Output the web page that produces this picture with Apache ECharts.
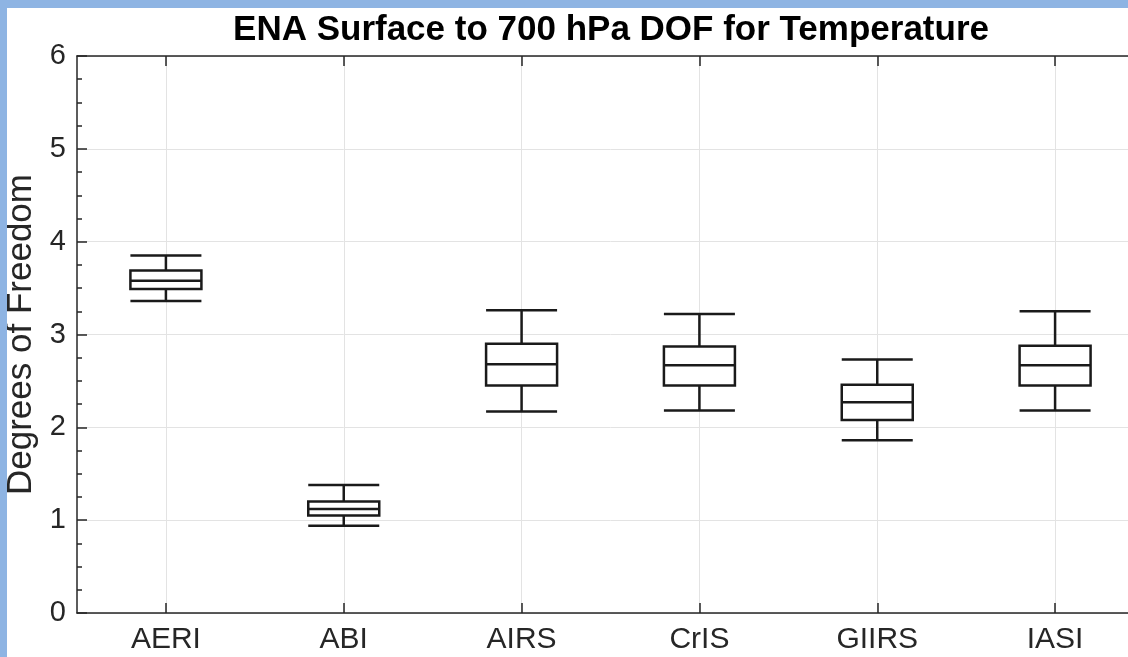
<!DOCTYPE html>
<html>
<head>
<meta charset="utf-8">
<script src="https://cdn.jsdelivr.net/npm/echarts@6/dist/echarts.min.js"></script>
<style>
  html, body { margin: 0; padding: 0; width: 1128px; height: 657px; overflow: hidden; background: #8eb4e3; }
  #chart { position: absolute; left: 7px; top: 8px; width: 1208px; height: 649px; background: #ffffff; }
</style>
</head>
<body>
<div id="chart"></div>
<script>
// instruments on the x axis
const instruments = ["AERI", "ABI", "AIRS", "CrIS", "GIIRS", "IASI"];
// box stats: lower whisker, Q1, median, Q3, upper whisker
const lowerWhisker = [3.36, 0.94, 2.17, 2.18, 1.86, 2.18];
const q1 = [3.49, 1.05, 2.45, 2.45, 2.08, 2.45];
const median = [3.58, 1.12, 2.68, 2.67, 2.27, 2.67];
const q3 = [3.69, 1.20, 2.90, 2.87, 2.46, 2.88];
const upperWhisker = [3.85, 1.38, 3.26, 3.22, 2.73, 3.25];
const yTicks = [0, 1, 2, 3, 4, 5, 6];

const boxData = instruments.map((_, i) => [lowerWhisker[i], q1[i], median[i], q3[i], upperWhisker[i]]);

const axisColor = "#262626";
const gridColor = "#e3e3e3";
const font = "'Liberation Sans', Arial, Helvetica, sans-serif";

const myChart = echarts.init(document.getElementById("chart"));
const option = {
  animation: false,
  title: {
    text: "ENA Surface to 700 hPa DOF for Temperature",
    left: "center",
    top: 0,
    textStyle: { fontFamily: font, fontSize: 35, fontWeight: "bold", color: "#000000" }
  },
  grid: { left: 70, top: 48, width: 1067, height: 557, outerBoundsMode: "none", containLabel: false },
  xAxis: [
    {
      type: "category",
      data: instruments,
      position: "bottom",
      axisLine: { lineStyle: { color: axisColor, width: 1.5 } },
      axisTick: { show: true, inside: true, length: 10, alignWithLabel: true, lineStyle: { color: axisColor, width: 1.5 } },
      axisLabel: { fontFamily: font, fontSize: 30, color: axisColor, margin: 12 },
      splitLine: { show: true, alignWithLabel: true, lineStyle: { color: gridColor, width: 1 } }
    },
    {
      type: "category",
      data: instruments,
      position: "top",
      axisLine: { lineStyle: { color: axisColor, width: 1.5 } },
      axisTick: { show: true, inside: true, length: 10, alignWithLabel: true, lineStyle: { color: axisColor, width: 1.5 } },
      axisLabel: { show: false },
      splitLine: { show: false }
    }
  ],
  yAxis: {
    type: "value",
    min: 0,
    max: 6,
    interval: 1,
    name: "Degrees of Freedom",
    nameLocation: "middle",
    nameRotate: 90,
    nameGap: 38,
    nameTextStyle: { fontFamily: font, fontSize: 35, color: axisColor },
    axisLine: { show: true, lineStyle: { color: axisColor, width: 1.5 } },
    axisTick: { show: true, inside: true, length: 10, lineStyle: { color: axisColor, width: 1.5 } },
    minorTick: { show: true, splitNumber: 4, length: 5, lineStyle: { color: axisColor, width: 1.5 } },
    axisLabel: {
      fontFamily: font, fontSize: 29, color: axisColor, margin: 11,
      formatter: v => (yTicks.includes(v) ? String(v) : "")
    },
    splitLine: { show: true, lineStyle: { color: gridColor, width: 1 } }
  },
  series: [
    {
      type: "boxplot",
      data: boxData,
      boxWidth: [71, 71],
      itemStyle: { color: "#ffffff", borderColor: "#1a1a1a", borderWidth: 2.5 }
    }
  ]
};
myChart.setOption(option);
</script>
</body>
</html>
